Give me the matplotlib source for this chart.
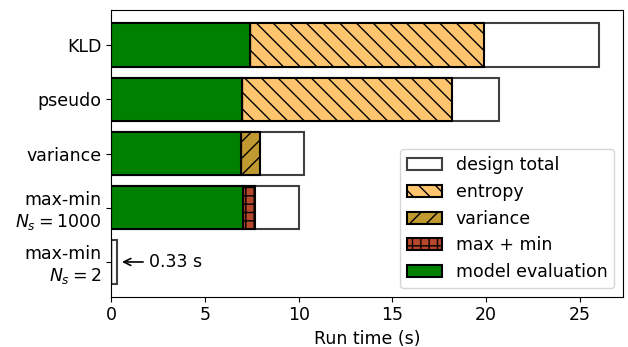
import numpy as np
import matplotlib.pyplot as plt

labels = ["KLD", "pseudo", "variance", "max-min\n$N_s = 1000$", "max-min\n$N_s = 2$"]
model_eval = [7.4, 7.0, 6.9, 7.05, 0.0]
entropy = [12.47, 11.17, 0.0, 0.0, 0.0]
variance = [0.0, 0.0, 1.02, 0.0, 0.0]
maxmin = [0.0, 0.0, 0.0, 0.64, 0.0]
design_total = [26.0, 20.7, 10.28, 10.03, 0.33]

plt.rcParams["font.size"] = 12.5
plt.rcParams["hatch.linewidth"] = 1.0

fig, ax = plt.subplots(figsize=(6.28, 3.47), dpi=100)
y = np.arange(len(labels))
h = 0.8

me = np.array(model_eval)
ax.barh(y, design_total, h, color="white", edgecolor="0.25", linewidth=1.5, label="design total")
ax.barh(y, entropy, h, left=me, color="#fec56e", edgecolor="black", linewidth=1.5,
        hatch="\\\\", label="entropy")
ax.barh(y, variance, h, left=me, color="#c09a30", edgecolor="black", linewidth=1.5,
        hatch="//", label="variance")
ax.barh(y, maxmin, h, left=me, color="#b5472b", edgecolor="black", linewidth=1.5,
        hatch="++", label="max + min")
ax.barh(y, model_eval, h, color="green", edgecolor="black", linewidth=1.5,
        label="model evaluation")

ax.annotate("0.33 s", xy=(design_total[4] + 0.1, y[4]), xytext=(2.0, y[4]),
            va="center", ha="left",
            arrowprops=dict(arrowstyle="->", color="black", lw=1.2))

ax.set_yticks(y)
ax.set_yticklabels(labels)
ax.invert_yaxis()
ax.set_xlabel("Run time (s)")
ax.legend(loc="lower right")

plt.subplots_adjust(left=0.177, right=0.992, top=0.97, bottom=0.145)
plt.savefig("out.png")
plt.close()
